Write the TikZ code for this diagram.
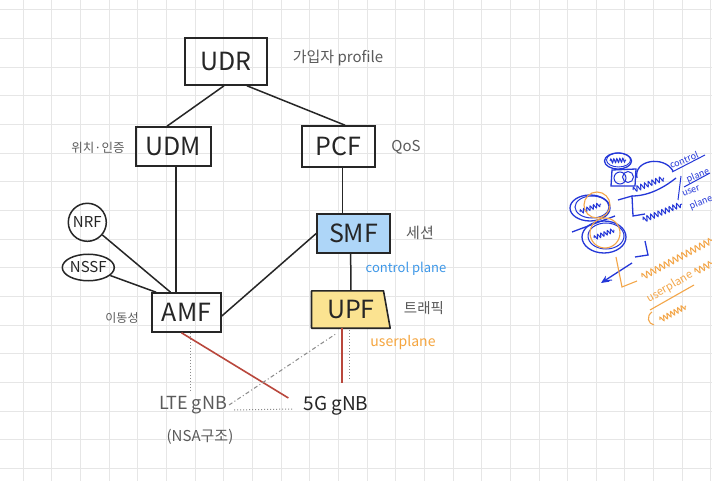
\documentclass[tikz,border=0pt]{standalone}
\usepackage{fontspec}
\setmainfont{Noto Sans CJK KR}
\usetikzlibrary{calc,backgrounds,decorations.pathmorphing,arrows.meta,shapes.geometric}
\definecolor{gridc}{HTML}{E6E6E6}
\definecolor{linec}{HTML}{262626}
\definecolor{grayt}{HTML}{5A5A5A}
\definecolor{smfc}{HTML}{AED6F8}
\definecolor{upfc}{HTML}{FBE391}
\definecolor{cpc}{HTML}{3D97E8}
\definecolor{upc}{HTML}{F5A53E}
\definecolor{redl}{HTML}{B9473C}
\definecolor{dotc}{HTML}{8A8A8A}
\definecolor{bsc}{HTML}{2437D8}
\definecolor{osc}{HTML}{F3A649}
\newcommand{\fsz}[1]{\fontsize{#1}{#1}\selectfont}
\begin{document}
\begin{tikzpicture}[x=1pt,y=-1pt,
  box/.style={draw=linec,line width=1.6pt,inner sep=0pt,text=linec,font=\fsz{25}},
  circnode/.style={circle,draw=linec,line width=1.5pt,inner sep=0pt,text=linec,font=\fsz{15}},
  ellnode/.style={ellipse,draw=linec,line width=1.5pt,inner sep=0pt,text=linec,font=\fsz{15}},
  conn/.style={draw=linec,line width=1.5pt},
  lbl/.style={text=grayt,inner sep=0pt},
  redconn/.style={draw=redl,line width=1.6pt},
  dotconn/.style={draw=dotc,line width=1pt,dotted},
  dashdotconn/.style={draw=dotc,line width=1pt,dash pattern=on 4pt off 2.5pt on 1pt off 2.5pt},
  bs/.style={draw=bsc,line width=1.3pt},
  os/.style={draw=osc,line width=1.1pt},
  bsq/.style={draw=bsc,line width=1pt,decorate,decoration={snake,amplitude=2.5pt,segment length=4pt}},
  osq/.style={draw=osc,line width=1pt,decorate,decoration={snake,amplitude=3pt,segment length=5pt}},
  bt/.style={text=bsc,inner sep=0pt,font=\fsz{9}},
  ot/.style={text=osc,inner sep=0pt,font=\fsz{11}}]
\useasboundingbox (0,0) rectangle (712,481);
\begin{scope}[on background layer]
\fill[white] (0,0) rectangle (712,481);
\foreach \k in {0,...,24} \draw[gridc,line width=1pt] ({23.3+\k*28.65},0) -- ({23.3+\k*28.65},481);
\foreach \k in {0,...,16} \draw[gridc,line width=1pt] (0,{10+\k*28.65}) -- (712,{10+\k*28.65});
\end{scope}

% main nodes
\node[box,minimum width=82pt,minimum height=47pt] (udr) at (226,61.5) {UDR};
\node[box,minimum width=75pt,minimum height=39pt] (udm) at (173.5,146.5) {UDM};
\node[box,minimum width=73pt,minimum height=41pt] (pcf) at (338.5,146.5) {PCF};
\node[box,fill=smfc,minimum width=73pt,minimum height=39pt] (smf) at (353.5,233.5) {SMF};
\node[box,minimum width=69pt,minimum height=39pt] (amf) at (186.5,312.5) {AMF};
\node[inner sep=0pt,minimum width=78.3pt,minimum height=37pt,text=linec,font=\fsz{25}] (upf) at (350.85,309.5) {UPF};
\begin{scope}[on background layer]
\draw[fill=upfc,draw=linec,line width=1.6pt,line join=round]
  (upf.north west) -- ($(upf.north east)+(-6.7,0)$) -- (upf.south east) -- (upf.south west) -- cycle;
\end{scope}
\node[circnode,minimum size=38pt] (nrf) at (87.3,222.3) {NRF};
\node[ellnode,minimum width=50pt,minimum height=26.5pt] (nssf) at (88.3,267.5) {NSSF};

% labels
\node[lbl,font=\fsz{15}] (udrl) at (338,58) {가입자 profile};
\node[lbl,font=\fsz{12.5}] (udml) at (98,148) {위치·인증};
\node[lbl,font=\fsz{15}] (pcfl) at (406,147) {QoS};
\node[lbl,font=\fsz{15}] (smfl) at (420,233) {세션};
\node[inner sep=0pt,text=cpc,font=\fsz{13}] (cp) at (406,269) {control plane};
\node[lbl,font=\fsz{12}] (amfl) at (122,318) {이동성};
\node[lbl,font=\fsz{14.5}] (upfl) at (424,308) {트래픽};
\node[inner sep=0pt,text=upc,font=\fsz{14}] (upl) at (403,343) {userplane};
\node[lbl,font=\fsz{18}] (lte) at (193,405) {LTE gNB};
\node[lbl,font=\fsz{15}] (nsa) at (200,437) {(NSA구조)};
\node[inner sep=0pt,text=linec,font=\fsz{19}] (g5) at (336,406) {5G gNB};

% connectors
\draw[conn] ([xshift=-2pt]udr.south) -- ([xshift=-6.5pt]udm.north);
\draw[conn] ([xshift=21pt]udr.south) -- ([xshift=6.5pt]pcf.north);
\draw[conn] ([xshift=2.5pt]udm.south) -- ([xshift=-10.5pt]amf.north);
\draw[conn] ([xshift=4.2pt]pcf.south) -- ([xshift=-10.8pt]smf.north);
\draw[conn] (nrf) -- ([xshift=-16pt]amf.north);
\draw[conn] (nssf) -- ([xshift=-30.5pt]amf.north);
\draw[conn] ([yshift=-3.5pt]amf.east) -- (smf.west);
\draw[conn] ([xshift=-2.8pt]smf.south) -- (upf.north);

\draw[redconn] ([xshift=-5pt]amf.south) -- ([xshift=-15pt,yshift=8pt]g5.west);
\draw[redconn] ([xshift=-9pt]upf.south) -- ++(0,55);
\draw[dotconn] ([xshift=3.5pt]amf.south) -- ++(0,59);
\draw[dotconn] ([xshift=-1.5pt,yshift=-2pt]upf.south) -- ++(0,50);
\draw[dashdotconn] ([xshift=2pt]lte.east) -- ([xshift=-14pt,yshift=-5pt]upf.south);
\draw[dotconn] ([xshift=7pt,yshift=-5pt]lte.east) -- ([xshift=-11pt,yshift=-3pt]g5.west);

% right-side scribbles
\draw[bs] (618,161) ellipse [x radius=13.5, y radius=8];
\draw[bs,line width=0.9pt] (618.5,160) ellipse [x radius=12, y radius=7];
\draw[bsq,decoration={snake,amplitude=2pt,segment length=3pt}] (610,161) -- (626,160);
\draw[bs] (612,170) -- (636,169) -- (635,186) -- (611,186) -- cycle;
\draw[bs,line width=1pt] (620,178) circle [radius=6];
\draw[bs,line width=1pt] (628,177) circle [radius=5.5];
\draw[bs] (637,178) .. controls (633,160) and (664,155) .. (673,171);
\draw[bsq] (633,190) -- (664,178);
\draw[bs] (618,200) -- (632,196) -- (633,216) -- (645,214);
\draw[bs] (632,196) .. controls (650,196) and (666,186) .. (676,178);
\draw[bs,line width=1pt] (681,176) -- (678,200);
\draw[bsq] (643,220) -- (682,204);
\node[bt,rotate=22] (bt1) at (684,160) {control};
\draw[bs,line width=1pt] (672,172) -- (705,155);
\node[bt,rotate=22] (bt2) at (698,176) {plane};
\draw[bs,line width=1pt] (684,187) -- (710,173);
\node[bt,rotate=22] (bt3) at (691,191) {user};
\node[bt,rotate=22] (bt4) at (701,203) {plane};

\draw[bs] (590,208) ellipse [x radius=20, y radius=13];
\draw[bs,line width=1pt] (592,207) ellipse [x radius=17, y radius=11];
\draw[bsq,decoration={snake,amplitude=2pt,segment length=3.5pt}] (580,212) -- (601,204);
\draw[os] (597,205) circle [radius=13];
\draw[bs] (572,232) -- (615,216);
\draw[bs] (604,237) ellipse [x radius=22, y radius=16];
\draw[bs,line width=1pt] (606,236) ellipse [x radius=18, y radius=13];
\draw[bsq,decoration={snake,amplitude=2pt,segment length=3.5pt}] (594,238) -- (614,230);
\draw[os] (605,233) circle [radius=15];
\draw[bs] (645,241) -- (648,255) -- (635,257);
\draw[bs,-{Stealth[length=8pt,width=7pt]}] (632,263) -- (601,283);
\draw[bs,line width=1pt] (603,281) -- (612,280);

\draw[os] (616,257) -- (622,287) -- (637,281);
\draw[osq] (642,277) -- (712,240);
\node[ot,rotate=30] (ot1) at (670,287) {userplane};
\draw[osq] (695,272) -- (712,263);
\draw[os] (650,310) -- (694,285);
\draw[os] (652,312) .. controls (646,316) and (648,324) .. (654,325);
\draw[osq,decoration={snake,amplitude=2.5pt,segment length=4pt}] (660,320) -- (686,306);
\end{tikzpicture}
\end{document}
